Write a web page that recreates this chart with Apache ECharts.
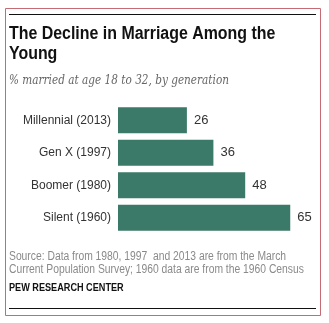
<!DOCTYPE html>
<html>
<head>
<meta charset="utf-8">
<script src="https://cdn.jsdelivr.net/npm/echarts@6/dist/echarts.min.js"></script>
<style>
  html, body { margin: 0; padding: 0; background: #fff; }
  #chart { width: 329px; height: 323px; }
</style>
</head>
<body>
<div id="chart"></div>
<script>
// Share of adults married at ages 18 to 32, by generation
const categories = ['Millennial (2013)', 'Gen X (1997)', 'Boomer (1980)', 'Silent (1960)'];
const values = [26, 36, 48, 65];

const titleLines = ['The Decline in Marriage Among the', 'Young'];
const subtitleText = '% married at age 18 to 32, by generation';
const sourceLines = [
  'Source: Data from 1980, 1997  and 2013 are from the March',
  'Current Population Survey; 1960 data are from the 1960 Census'
];
const creditText = 'PEW RESEARCH CENTER';

const sans = "'Liberation Sans', Arial, sans-serif";
const chart = echarts.init(document.getElementById('chart'), null, { renderer: 'canvas' });

// Text block anchored at its top-left corner, optionally squeezed horizontally
function textBlock(x, y, text, style, scaleX) {
  return {
    type: 'text', x: x, y: y, scaleX: scaleX || 1, originX: 0, originY: 0,
    style: Object.assign({ text: text, x: 0, y: 0, textVerticalAlign: 'top' }, style)
  };
}

chart.setOption({
  backgroundColor: '#ffffff',
  animation: false,
  grid: { left: 118, right: 25.5, top: 104, bottom: 89, containLabel: false },
  xAxis: { type: 'value', min: 0, max: 70, show: false },
  yAxis: {
    type: 'category',
    data: categories,
    inverse: true,
    axisLine: { show: false },
    axisTick: { show: false },
    axisLabel: { margin: 7, fontFamily: sans, fontSize: 12, color: '#333' }
  },
  series: [{
    type: 'bar',
    data: values,
    barWidth: 26,
    itemStyle: { color: '#3b7a69' },
    label: {
      show: true, position: 'right', distance: 7,
      fontFamily: sans, fontSize: 13, color: '#333'
    }
  }],
  graphic: [
    { type: 'rect', shape: { x: 5.5, y: 8.5, width: 315, height: 307 }, style: { fill: 'none', stroke: '#c56b74', lineWidth: 1 } },
    { type: 'line', shape: { x1: 9, y1: 14.5, x2: 316, y2: 14.5 }, style: { stroke: '#111', lineWidth: 1.2 } },
    { type: 'line', shape: { x1: 9, y1: 308.5, x2: 316, y2: 308.5 }, style: { stroke: '#111', lineWidth: 1.2 } },
    textBlock(9, 24.5, titleLines.join('\n'),
      { fontFamily: sans, fontWeight: 'bold', fontSize: 17.5, lineHeight: 20, fill: '#111' }, 0.91),
    textBlock(9, 74, subtitleText,
      { fontFamily: "'DejaVu Serif', Georgia, serif", fontStyle: 'italic', fontSize: 12.5, fill: '#666' }, 0.84),
    textBlock(9, 249.5, sourceLines.join('\n'),
      { fontFamily: sans, fontSize: 12, lineHeight: 13.5, fill: '#8a8a8a' }, 0.86),
    textBlock(9, 282, creditText,
      { fontFamily: sans, fontWeight: 'bold', fontSize: 11, fill: '#111' }, 0.83)
  ]
});
</script>
</body>
</html>
